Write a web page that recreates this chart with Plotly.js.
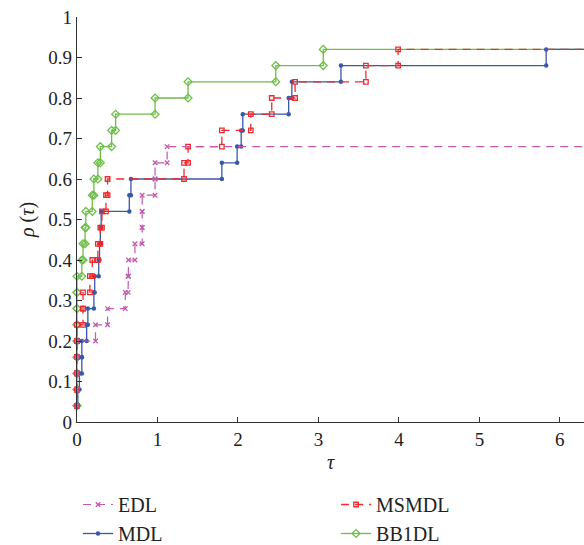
<!DOCTYPE html>
<html>
<head>
<meta charset="utf-8">
<script src="https://cdn.plot.ly/plotly-3.0.1.min.js"></script>
<style>html,body{margin:0;padding:0;background:#fff;}#chart{width:584px;height:545px;}</style>
</head>
<body>
<div id="chart"></div>
<script>
// Performance profile data: sorted tau values (one per solved problem), 25 problems
const nProblems = 25;
const seriesNames = ["EDL", "MDL", "MSMDL", "BB1DL"];
const edlTau = [0, 0, 0, 0, 0, 0.23, 0.38, 0.60, 0.635, 0.64, 0.72, 0.81, 0.81, 0.81, 0.97, 0.97, 1.12];
const mdlTau = [0, 0.01, 0.03, 0.06, 0.06, 0.12, 0.135, 0.21, 0.22, 0.27, 0.28, 0.29, 0.30, 0.65, 0.67, 1.80, 1.99, 2.04, 2.06, 2.63, 2.67, 3.28, 5.83];
const msmdlTau = [0, 0, 0, 0, 0, 0, 0.075, 0.075, 0.16, 0.19, 0.26, 0.29, 0.31, 0.36, 0.38, 1.33, 1.38, 1.80, 2.16, 2.42, 2.71, 3.59, 3.99];
const bb1dlTau = [0, 0, 0, 0, 0, 0, 0, 0, 0, 0.06, 0.075, 0.10, 0.11, 0.19, 0.21, 0.26, 0.29, 0.43, 0.48, 0.97, 1.38, 2.47, 3.06];
const tauMax = 6.6;
const xTickVals = [0, 1, 2, 3, 4, 5, 6];
const yTickVals = [0, 0.1, 0.2, 0.3, 0.4, 0.5, 0.6, 0.7, 0.8, 0.9, 1];
const yTickText = ["0", "0.1", "0.2", "0.3", "0.4", "0.5", "0.6", "0.7", "0.8", "0.9", "1"];

function stairs(taus) {
  const x = [], y = [];
  for (let i = 0; i < taus.length; i++) {
    const r = (i + 1) / nProblems;
    if (i > 0) { x.push(taus[i]); y.push(i / nProblems); }
    x.push(taus[i]); y.push(r);
  }
  x.push(tauMax); y.push(taus.length / nProblems);
  return {x, y};
}

const sEDL = stairs(edlTau), sMDL = stairs(mdlTau), sMS = stairs(msmdlTau), sBB = stairs(bb1dlTau);

const traces = [
  {x: sBB.x, y: sBB.y, name: seriesNames[3], legend: "legend2", legendrank: 2, mode: "lines+markers", cliponaxis: false,
   line: {color: "#6cbf48", width: 1.3},
   marker: {symbol: "diamond-open", size: 6, color: "#6cbf48", line: {width: 1.3}}},
  {x: sMDL.x, y: sMDL.y, name: seriesNames[1], legend: "legend", legendrank: 2, mode: "lines+markers", cliponaxis: false,
   line: {color: "#3a58a8", width: 1.3},
   marker: {symbol: "circle", size: 4.5, color: "#3a58a8"}},
  {x: sMS.x, y: sMS.y, name: seriesNames[2], legend: "legend2", legendrank: 1, mode: "lines+markers", cliponaxis: false,
   line: {color: "#ee2b2e", width: 1.3, dash: "8px,6px"},
   marker: {symbol: "square-open", size: 4.5, color: "#ee2b2e", line: {width: 1.3}}},
  {x: sEDL.x, y: sEDL.y, name: seriesNames[0], legend: "legend", legendrank: 1, mode: "lines+markers", cliponaxis: false,
   line: {color: "#c457ae", width: 1.2, dash: "8px,6px"},
   marker: {symbol: "x-thin-open", size: 4.5, color: "#c457ae", line: {width: 1.3, color: "#c457ae"}}}
];

const legendCommon = {orientation: "v", xref: "paper", yref: "container", xanchor: "left",
  y: 1 - 485 / 545, yanchor: "top", traceorder: "normal", font: {size: 20, color: "#222"}, bgcolor: "rgba(0,0,0,0)"};

const layout = {
  width: 584, height: 545,
  margin: {l: 77, r: 0, t: 17, b: 123},
  paper_bgcolor: "#fff", plot_bgcolor: "#fff",
  font: {family: "Liberation Serif, Times New Roman, serif", color: "#222", size: 17},
  showlegend: true,
  legend: Object.assign({}, legendCommon, {x: 0.002}),
  legend2: Object.assign({}, legendCommon, {x: 0.511}),
  xaxis: {range: [0, 6.3], tickvals: xTickVals, ticks: "inside", ticklen: 5, tickcolor: "#333",
          showline: true, linecolor: "#333", linewidth: 1.2, showgrid: false, zeroline: false,
          mirror: false, tickfont: {size: 19},
          title: {text: "<i>τ</i>", font: {size: 20}, standoff: 6}},
  yaxis: {range: [0, 1], tickvals: yTickVals, ticktext: yTickText, ticks: "inside", ticklen: 5, tickcolor: "#333",
          showline: true, linecolor: "#333", linewidth: 1.2, showgrid: false, zeroline: false,
          mirror: false, tickfont: {size: 19},
          title: {text: "<i>ρ</i> (<i>τ</i>)", font: {size: 20}, standoff: 8}}
};

Plotly.newPlot("chart", traces, layout, {displayModeBar: false, staticPlot: true});
</script>
</body>
</html>
